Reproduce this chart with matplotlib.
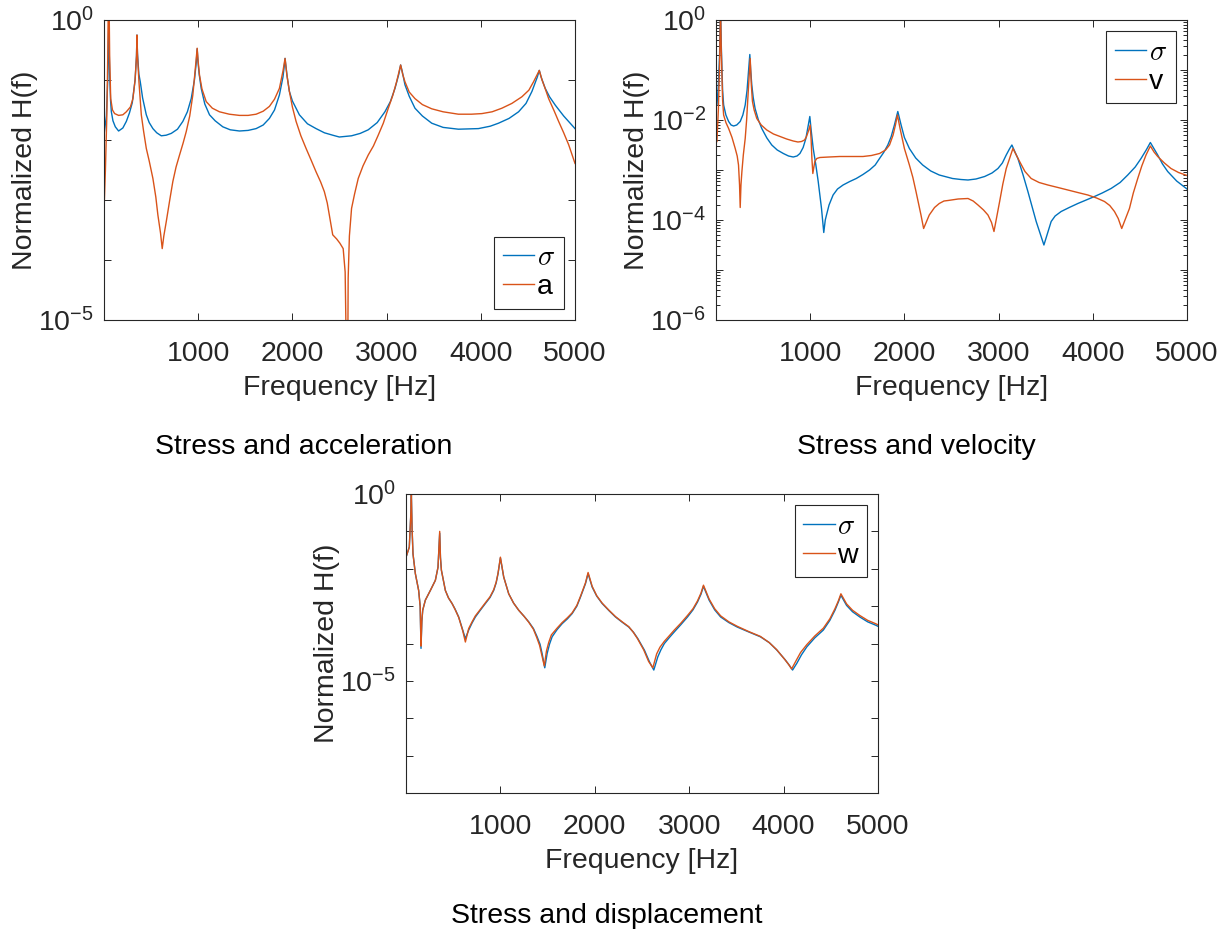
import numpy as np
import matplotlib
matplotlib.use("Agg")
import matplotlib.pyplot as plt
from matplotlib.font_manager import FontProperties
from matplotlib.ticker import LogLocator, NullLocator, FixedLocator, FixedFormatter

plt.rcParams['font.family'] = ['Liberation Sans', 'DejaVu Sans']
plt.rcParams['mathtext.fontset'] = 'custom'
plt.rcParams['mathtext.rm'] = 'Liberation Sans'
plt.rcParams['mathtext.it'] = 'Liberation Sans:italic'

# ---- data: columns = frequency [Hz], log10 of normalized H(f) ----
acc_sigma = np.array([
    (0, -1.92), (25, -1.6), (40, -1.0), (50, -0.05), (60, -0.9), (70, -1.35), (78, -1.53),
    (95, -1.68), (120, -1.78), (155, -1.85), (200, -1.8), (237, -1.69), (270, -1.55),
    (300, -1.38), (330, -1.0), (345, -0.6), (350, -0.25), (355, -0.55), (370, -0.9),
    (385, -1.03), (410, -1.3), (449, -1.58), (480, -1.71), (519, -1.81), (560, -1.88),
    (608, -1.93), (660, -1.92), (714, -1.89), (780, -1.82), (837, -1.69), (885, -1.53),
    (926, -1.31), (960, -1.0), (980, -0.7), (989, -0.48), (998, -0.7), (1010, -0.9),
    (1032, -1.14), (1070, -1.4), (1120, -1.58), (1180, -1.68), (1261, -1.78), (1340, -1.83),
    (1438, -1.85), (1530, -1.84), (1615, -1.81), (1690, -1.75), (1756, -1.64), (1810, -1.5),
    (1862, -1.25), (1900, -0.95), (1915, -0.75), (1922, -0.64), (1930, -0.75), (1945, -0.95),
    (1968, -1.19), (2000, -1.35), (2074, -1.58), (2160, -1.73), (2251, -1.81), (2340, -1.88),
    (2428, -1.92), (2498, -1.95), (2628, -1.93), (2720, -1.89), (2805, -1.83), (2900, -1.71),
    (2982, -1.53), (3040, -1.36), (3089, -1.14), (3130, -0.9), (3149, -0.75), (3165, -0.85),
    (3195, -1.08), (3240, -1.27), (3301, -1.47), (3380, -1.6), (3479, -1.72), (3600, -1.79),
    (3762, -1.82), (3975, -1.81), (4100, -1.77), (4188, -1.72), (4300, -1.64), (4401, -1.53),
    (4480, -1.39), (4543, -1.19), (4600, -0.95), (4621, -0.84), (4640, -0.95), (4684, -1.14),
    (4730, -1.28), (4791, -1.42), (4880, -1.6), (5000, -1.81)])

acc_a = np.array([
    (0, -3.19), (15, -2.5), (30, -1.6), (40, -0.6), (46, 0.3), (54, 0.3), (60, -0.6),
    (71, -1.31), (90, -1.5), (113, -1.56), (155, -1.59), (200, -1.58), (237, -1.53),
    (280, -1.45), (307, -1.31), (330, -1.0), (345, -0.6), (350, -0.25), (356, -0.6),
    (371, -1.03), (396, -1.58), (420, -1.85), (449, -2.14), (480, -2.35), (519, -2.64),
    (550, -2.95), (572, -3.25), (600, -3.55), (618, -3.81), (635, -3.6), (661, -3.36),
    (700, -2.98), (731, -2.69), (765, -2.45), (802, -2.25), (840, -2.05), (873, -1.86),
    (910, -1.6), (943, -1.25), (970, -0.8), (989, -0.47), (1000, -0.7), (1014, -0.92),
    (1040, -1.15), (1085, -1.36), (1150, -1.47), (1226, -1.53), (1330, -1.57), (1438, -1.59),
    (1530, -1.59), (1615, -1.57), (1690, -1.52), (1756, -1.44), (1810, -1.32), (1862, -1.14),
    (1900, -0.85), (1922, -0.64), (1940, -0.9), (1968, -1.19), (2000, -1.45), (2039, -1.69),
    (2090, -1.93), (2145, -2.14), (2200, -2.34), (2251, -2.53), (2300, -2.7), (2339, -2.86),
    (2370, -3.05), (2392, -3.25), (2428, -3.58), (2470, -3.65), (2504, -3.72), (2539, -3.81),
    (2560, -4.2), (2572, -5.5), (2580, -6.0), (2588, -5.5), (2592, -4.3), (2605, -3.6),
    (2628, -3.14), (2660, -2.9), (2699, -2.64), (2750, -2.43), (2805, -2.25), (2860, -2.1),
    (2911, -1.92), (2965, -1.72), (3018, -1.47), (3065, -1.26), (3106, -1.03), (3149, -0.75),
    (3170, -0.9), (3195, -1.03), (3240, -1.2), (3301, -1.31), (3380, -1.41), (3479, -1.48),
    (3600, -1.53), (3762, -1.57), (3900, -1.57), (4011, -1.56), (4120, -1.53), (4224, -1.47),
    (4330, -1.39), (4436, -1.28), (4510, -1.17), (4560, -1.03), (4621, -0.84), (4650, -1.0),
    (4685, -1.15), (4720, -1.31), (4780, -1.52), (4826, -1.69), (4880, -1.88), (4933, -2.08),
    (5000, -2.39)])

vel_sigma = np.array([
    (10, -1.7), (25, -1.3), (38, -0.7), (48, 0.3), (56, -0.5), (70, -1.4), (81, -1.7),
    (105, -1.9), (134, -2.03), (160, -2.1), (187, -2.12), (220, -2.1), (257, -2.03),
    (285, -1.9), (310, -1.7), (330, -1.4), (345, -1.03), (359, -0.69), (368, -1.0),
    (380, -1.3), (395, -1.55), (415, -1.77), (450, -2.0), (486, -2.17), (540, -2.36),
    (592, -2.5), (650, -2.6), (715, -2.67), (770, -2.72), (820, -2.74), (860, -2.72),
    (891, -2.67), (925, -2.55), (954, -2.37), (980, -2.1), (996, -1.93), (1010, -2.2),
    (1032, -2.57), (1060, -2.9), (1085, -3.23), (1120, -3.77), (1144, -4.25), (1160, -4.0),
    (1173, -3.9), (1200, -3.7), (1243, -3.5), (1290, -3.38), (1349, -3.3), (1420, -3.23),
    (1489, -3.17), (1560, -3.09), (1630, -3.0), (1690, -2.9), (1736, -2.77), (1780, -2.65),
    (1824, -2.5), (1860, -2.33), (1894, -2.1), (1930, -1.83), (1965, -2.1), (2000, -2.35),
    (2053, -2.57), (2120, -2.76), (2194, -2.9), (2280, -3.02), (2370, -3.1), (2511, -3.17),
    (2600, -3.19), (2675, -3.2), (2760, -3.18), (2852, -3.13), (2930, -3.06), (2993, -2.97),
    (3040, -2.86), (3081, -2.7), (3115, -2.58), (3141, -2.5), (3205, -2.77), (3260, -3.1),
    (3311, -3.43), (3399, -4.03), (3481, -4.5), (3558, -4.03), (3600, -3.92), (3664, -3.83),
    (3750, -3.75), (3841, -3.67), (3930, -3.6), (4018, -3.53), (4100, -3.46), (4194, -3.37),
    (4290, -3.25), (4371, -3.1), (4450, -2.94), (4512, -2.77), (4570, -2.59), (4611, -2.45),
    (4689, -2.7), (4740, -2.88), (4795, -3.03), (4890, -3.22), (5000, -3.38)])

vel_v = np.array([
    (10, -2.43), (25, -1.8), (38, -0.9), (48, 0.3), (56, -0.6), (70, -1.6), (81, -1.9),
    (105, -2.05), (134, -2.17), (170, -2.35), (204, -2.57), (225, -2.72), (239, -2.9),
    (250, -3.3), (257, -3.75), (265, -3.3), (275, -3.03), (290, -2.7), (310, -2.37),
    (325, -2.0), (338, -1.57), (363, -0.77), (375, -1.3), (387, -1.63), (405, -1.8),
    (433, -1.97), (480, -2.1), (539, -2.2), (610, -2.28), (680, -2.33), (750, -2.38),
    (820, -2.42), (870, -2.44), (908, -2.43), (940, -2.4), (961, -2.33), (985, -2.2),
    (1000, -2.1), (1010, -2.4), (1018, -2.77), (1028, -3.07), (1049, -2.83), (1070, -2.77),
    (1102, -2.75), (1200, -2.74), (1313, -2.73), (1450, -2.73), (1560, -2.73), (1650, -2.71),
    (1736, -2.67), (1800, -2.6), (1842, -2.5), (1880, -2.3), (1905, -2.1), (1926, -1.9),
    (1954, -2.17), (2000, -2.57), (2053, -2.9), (2090, -3.15), (2123, -3.43), (2176, -3.9),
    (2204, -4.17), (2264, -3.9), (2320, -3.75), (2370, -3.67), (2420, -3.62), (2463, -3.61),
    (2570, -3.58), (2675, -3.57), (2730, -3.62), (2781, -3.7), (2840, -3.8), (2887, -3.9),
    (2925, -4.05), (2951, -4.23), (3011, -3.63), (3045, -3.28), (3081, -2.97), (3152, -2.57),
    (3223, -2.83), (3280, -3.03), (3346, -3.17), (3430, -3.25), (3523, -3.3), (3630, -3.35),
    (3735, -3.4), (3840, -3.45), (3947, -3.5), (4040, -3.56), (4124, -3.63), (4180, -3.71),
    (4230, -3.83), (4270, -3.97), (4307, -4.17), (4389, -3.77), (4430, -3.46), (4477, -3.17),
    (4520, -2.92), (4565, -2.7), (4611, -2.52), (4650, -2.64), (4689, -2.73), (4760, -2.86),
    (4830, -2.97), (4910, -3.05), (5000, -3.11)])

disp_sigma = np.array([
    (7, -1.64), (35, -1.42), (50, -0.6), (57, -0.02), (64, -0.9), (74, -1.6), (99, -2.13),
    (134, -2.58), (150, -3.0), (159, -4.13), (168, -3.4), (177, -3.11), (205, -2.84),
    (258, -2.58), (311, -2.31), (339, -1.96), (357, -1.05), (365, -1.7), (375, -2.04),
    (417, -2.58), (450, -2.78), (488, -2.93), (520, -3.08), (558, -3.29), (601, -3.64),
    (629, -3.87), (664, -3.64), (700, -3.45), (735, -3.29), (790, -3.1), (841, -2.93),
    (890, -2.77), (929, -2.58), (955, -2.38), (975, -2.13), (1000, -1.71), (1035, -2.22),
    (1088, -2.67), (1140, -2.92), (1194, -3.11), (1250, -3.27), (1300, -3.42), (1350, -3.6),
    (1389, -3.82), (1420, -4.02), (1442, -4.27), (1470, -4.65), (1495, -4.27), (1520, -4.02),
    (1548, -3.82), (1600, -3.63), (1654, -3.47), (1710, -3.34), (1760, -3.2), (1810, -3.0),
    (1848, -2.76), (1901, -2.4), (1929, -2.13), (1972, -2.49), (2020, -2.73), (2078, -2.93),
    (2150, -3.12), (2219, -3.29), (2290, -3.43), (2360, -3.56), (2410, -3.7), (2456, -3.87),
    (2526, -4.18), (2579, -4.49), (2625, -4.71), (2667, -4.36), (2700, -4.17), (2737, -4.0),
    (2790, -3.84), (2842, -3.69), (2910, -3.5), (2982, -3.29), (3040, -3.1), (3088, -2.89),
    (3125, -2.68), (3151, -2.47), (3211, -2.84), (3270, -3.1), (3333, -3.29), (3420, -3.44),
    (3509, -3.56), (3630, -3.69), (3754, -3.82), (3850, -3.98), (3930, -4.18), (4018, -4.44),
    (4060, -4.58), (4095, -4.71), (4140, -4.53), (4190, -4.3), (4246, -4.09), (4330, -3.85),
    (4421, -3.64), (4490, -3.38), (4544, -3.11), (4580, -2.89), (4607, -2.71), (4667, -2.98),
    (4730, -3.15), (4807, -3.29), (4890, -3.42), (4975, -3.51), (5000, -3.54)])

disp_w = np.array([
    (7, -1.64), (35, -1.42), (50, -0.6), (57, -0.02), (64, -0.9), (74, -1.6), (99, -2.13),
    (134, -2.58), (150, -3.0), (159, -4.07), (168, -3.4), (177, -3.11), (205, -2.84),
    (258, -2.58), (311, -2.31), (339, -1.96), (357, -1.0), (365, -1.7), (375, -2.04),
    (417, -2.58), (450, -2.78), (488, -2.93), (520, -3.09), (558, -3.3), (601, -3.66),
    (629, -3.96), (664, -3.6), (700, -3.42), (735, -3.26), (790, -3.08), (841, -2.91),
    (890, -2.75), (929, -2.56), (955, -2.36), (975, -2.12), (1000, -1.69), (1035, -2.22),
    (1088, -2.67), (1140, -2.92), (1194, -3.11), (1250, -3.27), (1300, -3.43), (1350, -3.62),
    (1385, -3.84), (1415, -4.05), (1435, -4.27), (1465, -4.6), (1488, -4.2), (1512, -3.97),
    (1540, -3.77), (1600, -3.59), (1654, -3.44), (1710, -3.31), (1760, -3.18), (1810, -2.98),
    (1848, -2.74), (1901, -2.38), (1929, -2.1), (1972, -2.47), (2020, -2.72), (2078, -2.92),
    (2150, -3.11), (2219, -3.28), (2290, -3.42), (2360, -3.55), (2405, -3.69), (2450, -3.86),
    (2518, -4.17), (2570, -4.48), (2615, -4.65), (2655, -4.28), (2690, -4.1), (2737, -3.94),
    (2790, -3.79), (2842, -3.64), (2910, -3.46), (2982, -3.25), (3040, -3.07), (3088, -2.86),
    (3125, -2.65), (3151, -2.44), (3211, -2.81), (3270, -3.07), (3333, -3.26), (3420, -3.42),
    (3509, -3.54), (3630, -3.68), (3754, -3.81), (3845, -3.97), (3925, -4.16), (4010, -4.42),
    (4050, -4.55), (4085, -4.68), (4130, -4.47), (4180, -4.24), (4246, -4.03), (4330, -3.8),
    (4421, -3.59), (4490, -3.34), (4544, -3.07), (4580, -2.86), (4607, -2.67), (4667, -2.94),
    (4730, -3.11), (4807, -3.25), (4890, -3.38), (4975, -3.47), (5000, -3.5)])

xticks = [1000, 2000, 3000, 4000, 5000]
titles = ["Stress and acceleration", "Stress and velocity", "Stress and displacement"]
labels2 = ["a", "v", "w"]

BLUE = "#0072BD"
ORANGE = "#D95319"
AX = "#262626"
FS = 20.5

W, H = 1231, 943
fig = plt.figure(figsize=(W / 100, H / 100), dpi=100)

def px_axes(l, t, r, b):
    return fig.add_axes([l / W, 1 - b / H, (r - l) / W, (b - t) / H])

def sup(e):
    return r"$\mathregular{10^{%d}}$" % e

def style(ax, ylo, labeled, minor):
    ax.set_yscale('log')
    ax.set_xlim(0, 5000)
    ax.set_ylim(10.0 ** ylo, 1.0)
    ax.set_xticks(xticks)
    ax.set_xticklabels([str(t) for t in xticks])
    decs = list(range(ylo, 1))
    ax.yaxis.set_major_locator(FixedLocator([10.0 ** d for d in decs]))
    ax.yaxis.set_major_formatter(FixedFormatter([sup(d) if d in labeled else "" for d in decs]))
    if minor:
        ax.yaxis.set_minor_locator(LogLocator(base=10, subs=np.arange(2, 10), numticks=50))
    else:
        ax.yaxis.set_minor_locator(NullLocator())
    ax.xaxis.set_minor_locator(NullLocator())
    ax.tick_params(which='both', direction='in', top=True, right=True, colors=AX,
                   labelsize=FS, width=0.7)
    ax.tick_params(which='major', length=5)
    ax.tick_params(which='minor', length=3)
    ax.tick_params(axis='x', which='major', pad=15)
    ax.tick_params(axis='y', which='major', pad=7)
    for s in ax.spines.values():
        s.set_color(AX)
        s.set_linewidth(0.8)
    ax.set_xlabel("Frequency [Hz]", fontsize=FS, color=AX, labelpad=6)
    ax.set_ylabel("Normalized H(f)", fontsize=FS, color=AX, labelpad=0)

def draw(ax, s, o, lab, loc):
    ax.plot(s[:, 0], 10.0 ** s[:, 1], color=BLUE, lw=1.0, label=r"$\sigma$")
    ax.plot(o[:, 0], 10.0 ** o[:, 1], color=ORANGE, lw=1.0, label=lab)
    prop = FontProperties(family='Liberation Sans', size=FS, math_fontfamily='cm')
    leg = ax.legend(loc=loc, prop=prop, fancybox=False, framealpha=1, edgecolor=AX,
                    handlelength=1.1, handletextpad=0.1, borderpad=0.3, labelspacing=0.1,
                    borderaxespad=0.4)
    leg.get_frame().set_linewidth(0.8)

ax1 = px_axes(104, 20, 575, 320)
draw(ax1, acc_sigma, acc_a, labels2[0], 'lower right')
style(ax1, -5, [0, -5], False)

ax2 = px_axes(716, 20, 1187, 320)
draw(ax2, vel_sigma, vel_v, labels2[1], 'upper right')
style(ax2, -6, [0, -2, -4, -6], True)

ax3 = px_axes(406, 494, 878, 793)
draw(ax3, disp_sigma, disp_w, labels2[2], 'upper right')
style(ax3, -8, [0, -5], False)

fig.text(304 / W, 1 - 447 / H, titles[0], ha='center', va='center', fontsize=FS, color='black')
fig.text(916 / W, 1 - 447 / H, titles[1], ha='center', va='center', fontsize=FS, color='black')
fig.text(607 / W, 1 - 916 / H, titles[2], ha='center', va='center', fontsize=FS, color='black')

fig.savefig("out.png", dpi=100)
